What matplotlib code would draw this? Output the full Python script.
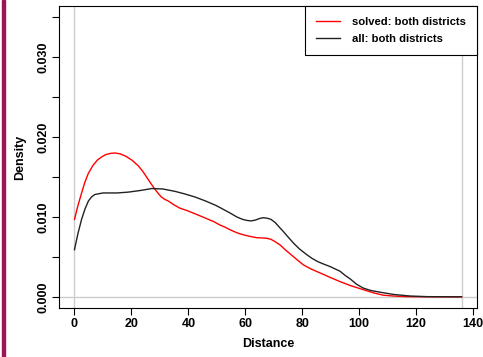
import numpy as np
import matplotlib
matplotlib.use("Agg")
import matplotlib.pyplot as plt
from matplotlib.patches import Rectangle

plt.rcParams['font.family'] = ['Liberation Sans', 'DejaVu Sans']
plt.rcParams['font.weight'] = 'bold'

# density curves
solved_x = [0, 1.2, 2.5, 3.6, 4.8, 6.4, 8, 9.5, 11, 12.6, 14.2, 16, 18, 20.2, 22.4, 24,
            25.5, 27, 28.2, 29.5, 30.5, 31.7, 32.9, 35, 37, 39.5, 42.3, 45, 47, 49, 51, 53,
            54.6, 56.5, 58, 60, 61.6, 64, 65.5, 67.5, 69, 70.5, 72.2, 74, 76, 78, 80.4, 83,
            86.2, 90, 93.3, 97, 101.4, 105, 108.5, 112, 116, 120, 128, 136]
solved_y = [0.0097, 0.0114, 0.0130, 0.0143, 0.0154, 0.0164, 0.0171, 0.0175, 0.0178, 0.01795,
            0.0180, 0.0179, 0.0176, 0.0171, 0.0164, 0.0157, 0.0149, 0.0141, 0.0135, 0.0129,
            0.0125, 0.0122, 0.0120, 0.0115, 0.0111, 0.0108, 0.0104, 0.0100, 0.0097, 0.0094,
            0.0090, 0.0087, 0.0084, 0.0081, 0.0079, 0.0077, 0.00757, 0.0074, 0.00738, 0.00733,
            0.0072, 0.0069, 0.0065, 0.0059, 0.0053, 0.0047, 0.0040, 0.0035, 0.0030, 0.0024,
            0.0019, 0.0014, 0.0009, 0.0005, 0.0002, 0.0001, 0.00003, 0.00001, 0.0, 0.0]

all_x = [0, 1.2, 2.5, 3.7, 4.9, 6, 7.1, 8.5, 10, 11.8, 15, 18.8, 23, 27.1, 31, 35.3, 38.5,
         42.3, 46, 49.8, 52, 54.6, 57, 59, 60.4, 62, 63.5, 65, 66.3, 67.5, 69, 70.5, 72,
         73.3, 75, 77, 79, 81.5, 83.5, 85.5, 87.5, 89.7, 91.5, 93.3, 95, 97, 99, 101.4,
         104, 107.3, 112, 117.9, 124, 136]
all_y = [0.0059, 0.0079, 0.0097, 0.0110, 0.0120, 0.0125, 0.0128, 0.0129, 0.0130, 0.0130,
         0.0130, 0.0131, 0.0133, 0.01355, 0.0135, 0.0132, 0.0129, 0.0125, 0.0120, 0.01142,
         0.0110, 0.0105, 0.0100, 0.0097, 0.00957, 0.0095, 0.0096, 0.0098, 0.0099, 0.00985,
         0.0097, 0.0093, 0.0087, 0.0082, 0.0075, 0.0067, 0.0060, 0.0053, 0.0048, 0.0044,
         0.0041, 0.0038, 0.0035, 0.0032, 0.0027, 0.0022, 0.0016, 0.0011, 0.0008, 0.00058,
         0.0003, 0.0001, 0.00002, 0.0]

x_ticks = [0, 20, 40, 60, 80, 100, 120, 140]
y_ticks = [0.000, 0.010, 0.020, 0.030]
y_minor = [0.005, 0.015, 0.025, 0.035]

fig = plt.figure(figsize=(4.83, 3.57), dpi=100)
ax = fig.add_axes([59/483, 49/357, 418/483, 302/357])

# maroon bar on the left edge
fig.patches.append(Rectangle((2/483, 0), 3/483, 1, transform=fig.transFigure,
                             color='#9b1558', zorder=0))

ax.axhline(0, color='#cccccc', lw=1, zorder=1)
ax.axvline(0, color='#cccccc', lw=1, zorder=1)
ax.axvline(136, color='#cccccc', lw=1, zorder=1)

ax.plot(solved_x, solved_y, color='#ff0000', lw=1, label='solved: both districts', zorder=3)
ax.plot(all_x, all_y, color='#222222', lw=1, label='all: both districts', zorder=3)

ax.set_xlim(-5.44, 141.4)
ax.set_ylim(-0.0014, 0.0364)

ax.set_xticks(x_ticks)
ax.set_yticks(y_ticks + y_minor)
ax.set_yticklabels(['0.000', '0.010', '0.020', '0.030', '', '', '', ''])
ax.tick_params(axis='both', direction='out', length=5, width=0.8, labelsize=9, pad=2)
ax.tick_params(axis='y', labelrotation=90)
for lab in ax.get_yticklabels():
    lab.set_va('center')
    lab.set_fontweight('bold')
for lab in ax.get_xticklabels():
    lab.set_fontweight('bold')

for s in ax.spines.values():
    s.set_linewidth(0.8)

ax.set_xlabel('Distance', fontsize=9, fontweight='bold', labelpad=6)
ax.set_ylabel('Density', fontsize=9, fontweight='bold', labelpad=8)

leg = ax.legend(loc='upper right', borderaxespad=0, fancybox=False, framealpha=1,
                edgecolor='black', handlelength=2.1, handletextpad=1.1,
                labelspacing=0.6, borderpad=1.0, prop={'weight': 'bold', 'size': 8.1})
leg.get_frame().set_linewidth(0.8)

fig.savefig('out.png', dpi=100)
